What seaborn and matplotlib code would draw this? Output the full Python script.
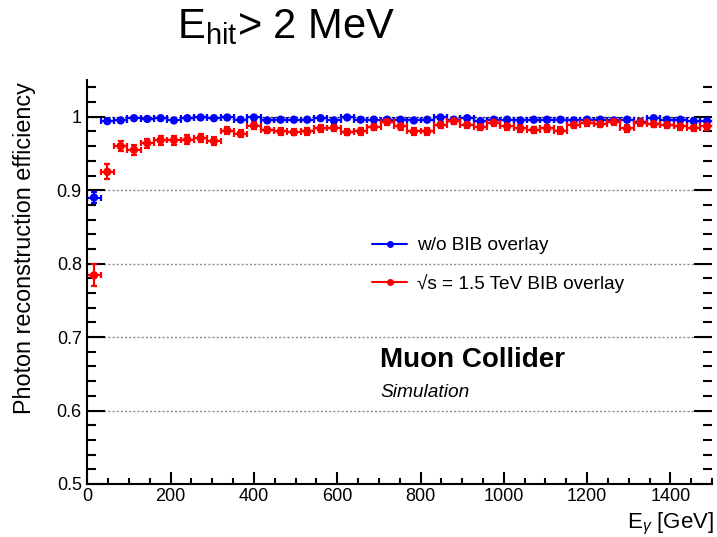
import matplotlib
matplotlib.use("Agg")
import matplotlib.pyplot as plt
from matplotlib.lines import Line2D
from matplotlib.ticker import MultipleLocator, FuncFormatter
import numpy as np
import pandas as pd
import seaborn as sns

# Photon energy bin centres [GeV] (32 GeV wide bins)
energy_gev = [16, 48, 80, 112, 144, 176, 208, 240, 272, 304, 336, 368, 400,
              432, 464, 496, 528, 560, 592, 624, 656, 688, 720, 752, 784,
              816, 848, 880, 912, 944, 976, 1008, 1040, 1072, 1104, 1136,
              1168, 1200, 1232, 1264, 1296, 1328, 1360, 1392, 1424, 1456, 1488]
energy_half_width = 16.0

# Reconstruction efficiency without beam-induced background
eff_nobib = [0.890, 0.994, 0.995, 0.998, 0.997, 0.998, 0.995, 0.998, 0.999,
             0.998, 0.999, 0.996, 0.999, 0.995, 0.996, 0.996, 0.996, 0.998,
             0.995, 0.999, 0.996, 0.996, 0.996, 0.996, 0.995, 0.996, 0.999,
             0.996, 0.998, 0.994, 0.996, 0.996, 0.995, 0.996, 0.996, 0.996,
             0.995, 0.996, 0.996, 0.995, 0.996, 0.993, 0.998, 0.996, 0.996,
             0.994, 0.994]
err_nobib = [0.008, 0.0025] + [0.0015] * 45

# Reconstruction efficiency with sqrt(s) = 1.5 TeV BIB overlay
eff_bib = [0.784, 0.925, 0.960, 0.955, 0.964, 0.968, 0.968, 0.969, 0.971,
           0.967, 0.981, 0.977, 0.988, 0.982, 0.980, 0.979, 0.980, 0.984,
           0.985, 0.979, 0.980, 0.986, 0.993, 0.987, 0.980, 0.980, 0.989,
           0.994, 0.989, 0.986, 0.992, 0.987, 0.984, 0.982, 0.984, 0.981,
           0.989, 0.992, 0.990, 0.993, 0.984, 0.992, 0.990, 0.989, 0.987,
           0.985, 0.987]
err_bib = [0.015, 0.010, 0.007, 0.007, 0.006, 0.006, 0.006, 0.006, 0.006,
           0.006] + [0.0045] * 37

series_labels = ["w/o BIB overlay", "\u221as = 1.5 TeV BIB overlay"]
series_colors = ["#0000ff", "#ff0000"]

df = pd.concat([
    pd.DataFrame({"E": energy_gev, "eff": eff_nobib, "err": err_nobib,
                  "sample": series_labels[0]}),
    pd.DataFrame({"E": energy_gev, "eff": eff_bib, "err": err_bib,
                  "sample": series_labels[1]}),
], ignore_index=True)

sns.set_theme(style="ticks")
plt.rcParams["font.family"] = ["Liberation Sans", "DejaVu Sans"]
plt.rcParams["mathtext.fontset"] = "custom"
plt.rcParams["mathtext.rm"] = "Liberation Sans"
plt.rcParams["mathtext.it"] = "Liberation Sans:italic"
plt.rcParams["mathtext.bf"] = "Liberation Sans:bold"
for key in ["text.color", "axes.labelcolor", "xtick.color", "ytick.color",
            "axes.edgecolor"]:
    plt.rcParams[key] = "black"

fig = plt.figure(figsize=(7.17, 5.37), dpi=100)
ax = fig.add_axes([0.1218, 0.0987, 0.8713, 0.7523])

# dotted horizontal grid
for yv in [0.6, 0.7, 0.8, 0.9]:
    ax.axhline(yv, color="#8c8c8c", lw=1.0, ls=(0, (1.5, 1.5)), zorder=0)
ax.axhline(1.0, color="#222222", lw=1.0, ls=(0, (1.5, 1.5)), zorder=0)

for label, color in zip(series_labels, series_colors):
    sub = df[df["sample"] == label]
    ax.errorbar(sub["E"], sub["eff"], xerr=energy_half_width, yerr=sub["err"],
                fmt="none", ecolor=color, elinewidth=1.6, capsize=2.2,
                capthick=1.6, zorder=2)

sns.scatterplot(data=df, x="E", y="eff", hue="sample",
                palette=dict(zip(series_labels, series_colors)),
                s=36, linewidth=0, legend=False, ax=ax, zorder=3)

ax.set_xlim(0, 1500)
ax.set_ylim(0.5, 1.05)
ax.xaxis.set_major_locator(MultipleLocator(200))
ax.xaxis.set_minor_locator(MultipleLocator(50))
ax.yaxis.set_major_locator(MultipleLocator(0.1))
ax.yaxis.set_minor_locator(MultipleLocator(0.02))
ax.yaxis.set_major_formatter(FuncFormatter(lambda v, p: f"{v:g}"))
ax.xaxis.set_major_formatter(FuncFormatter(lambda v, p: f"{v:g}"))

for side in ["top", "right"]:
    ax.spines[side].set_visible(False)
for side in ["left", "bottom"]:
    ax.spines[side].set_linewidth(1.5)
    ax.spines[side].set_color("black")

ax.tick_params(axis="both", which="both", direction="in", colors="black",
               labelcolor="black", width=1.5, labelsize=13)
ax.tick_params(axis="y", which="both", left=True, right=True)
ax.tick_params(axis="y", which="major", length=13, pad=4)
ax.tick_params(axis="y", which="minor", length=6.5)
ax.tick_params(axis="x", which="major", length=8.5, pad=3)
ax.tick_params(axis="x", which="minor", length=4)
ax.set_xlabel("")
ax.set_ylabel("")

fig.text(25 / 717, 1 - 82 / 537, "Photon reconstruction efficiency",
         rotation=90, ha="center", va="top", fontsize=16.8, color="black")
fig.text(714 / 717, 1 - 528 / 537, r"E$_{\gamma}$ [GeV]",
         ha="right", va="baseline", fontsize=16, color="black")
fig.text(177 / 717, 1 - 38 / 537, r"E$_{\mathrm{hit}}$> 2 MeV",
         ha="left", va="baseline", fontsize=30, color="black")
fig.text(380 / 717, 1 - 367 / 537, "Muon Collider", ha="left",
         va="baseline", fontsize=20, fontweight="bold", color="black")
fig.text(380 / 717, 1 - 397 / 537, "Simulation", ha="left",
         va="baseline", fontsize=13.8, fontstyle="italic", color="black")

handles = [Line2D([], [], color=c, marker="o", ms=4, lw=1.5)
           for c in series_colors]
leg = ax.legend(handles, series_labels, loc="upper left",
                bbox_to_anchor=(372 / 717, 1 - 237 / 537),
                bbox_transform=fig.transFigure, frameon=False, fontsize=13.7,
                handlelength=1.85, handletextpad=0.5, labelspacing=1.05,
                borderpad=0, borderaxespad=0)
for t in leg.get_texts():
    t.set_color("black")

fig.savefig("out.png", dpi=100)
